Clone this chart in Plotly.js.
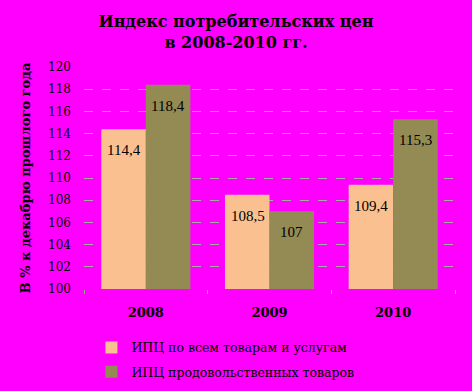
<!DOCTYPE html>
<html>
<head>
<meta charset="utf-8">
<script src="https://cdn.plot.ly/plotly-3.0.1.min.js"></script>
<style>html,body{margin:0;padding:0;background:#ff00ff;}#chart{width:472px;height:391px;}</style>
</head>
<body>
<div id="chart"></div>
<script>
var categories = ['2008', '2009', '2010'];
var seriesNames = ['ИПЦ по всем товарам и услугам', 'ИПЦ продовольственных товаров'];
var allGoods = [114.4, 108.5, 109.4];
var foodGoods = [118.4, 107, 115.3];
var yTicks = [100, 102, 104, 106, 108, 110, 112, 114, 116, 118, 120];

var serif = 'Liberation Serif, Times New Roman, serif';
var wide = 'DejaVu Serif, serif';
function fmt(v){ return String(v).replace('.', ','); }

var traces = [
  {type:'bar', name:seriesNames[0], legendgroup:'a', x:categories, y:allGoods, marker:{color:'#fac090'}, hoverinfo:'none'},
  {type:'bar', name:seriesNames[1], legendgroup:'b', x:categories, y:foodGoods, marker:{color:'#948a54'}, hoverinfo:'none'}
];

var annotations = [];
[allGoods, foodGoods].forEach(function(arr, si){
  arr.forEach(function(v, i){
    annotations.push({x:i, y:v, xref:'x', yref:'y', text:fmt(v), showarrow:false,
      xshift: si === 0 ? -22 : 22, yanchor:'top', yshift:-11,
      font:{family:serif, size:15, color:'#000'}});
  });
});

var layout = {
  width:472, height:391,
  paper_bgcolor:'#ff00ff', plot_bgcolor:'#ff00ff',
  margin:{l:84, r:17, t:67, b:102, autoexpand:false},
  title:{text:'<b>Индекс потребительских цен<br>в 2008-2010 гг.</b>', font:{family:wide, size:16, color:'#000'},
    x:0.5, xref:'container', y:0.93, yref:'container', yanchor:'middle', automargin:false},
  barmode:'group', bargap:0.28, bargroupgap:0,
  xaxis:{type:'category', range:[-0.5, 2.5], autorange:false, automargin:false, tickson:'boundaries', ticks:'outside', ticklen:4, tickcolor:'#a0a0a0',
    showline:false, showgrid:false, tickangle:0, ticklabelstandoff:14,
    tickfont:{family:wide, size:13, color:'#000', weight:'bold'}},
  yaxis:{range:[100,120], autorange:false, automargin:false, tickvals:yTicks, ticktext:yTicks.map(String), showgrid:true, gridcolor:'#a8a8a8', griddash:'dash',
    gridwidth:1, zeroline:false, showline:false, ticks:'', ticklabelstandoff:12,
    tickfont:{family:wide, size:12, color:'#000'},
    title:{text:'<b>В % к декабрю прошлого года</b>', font:{family:wide, size:13, color:'#000'}, standoff:14}},
  legend:{orientation:'v', x:0.02, xanchor:'left', y:-0.198, yanchor:'top', font:{family:wide, size:12.5, color:'#000'},
    bgcolor:'rgba(0,0,0,0)', tracegroupgap:5},
  annotations:annotations,
  showlegend:true
};

Plotly.newPlot('chart', traces, layout, {displayModeBar:false, staticPlot:true});
</script>
</body>
</html>
